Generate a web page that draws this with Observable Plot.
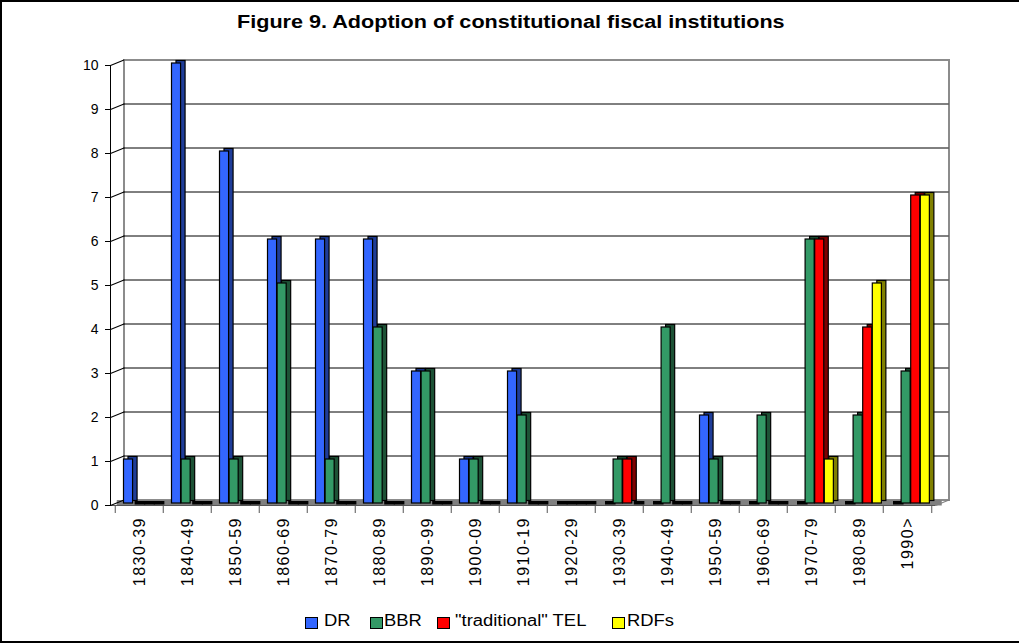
<!DOCTYPE html>
<html>
<head>
<meta charset="utf-8">
<script src="https://cdn.jsdelivr.net/npm/d3@7"></script>
<script src="https://cdn.jsdelivr.net/npm/@observablehq/plot@0.6"></script>
<style>
  html, body { margin: 0; padding: 0; background: #fff; }
  body { width: 1019px; height: 644px; position: relative; overflow: hidden;
         font-family: "Liberation Sans", Arial, sans-serif; color: #000; }
  #border { position: absolute; left: 0; top: 0; width: 1019px; height: 643px; box-sizing: border-box;
            border-top: 2px solid #000; border-left: 2px solid #000; border-bottom: 2px solid #000; }
  #chart { position: absolute; left: 0; top: 0; }
  #title { position: absolute; left: 237px; top: 13px; font-size: 18px; line-height: 18px; font-weight: bold;
           white-space: nowrap; transform: scaleX(1.2); transform-origin: 0 0; }
  .swatch { position: absolute; top: 617px; width: 13px; height: 12px; box-sizing: border-box; border: 1.5px solid #000; }
  .key { position: absolute; top: 613px; font-size: 16px; line-height: 16px; white-space: nowrap;
         transform: scaleX(1.15); transform-origin: 0 0; }
  #chart g[aria-label="x-axis tick label"] text { letter-spacing: 1.5px; }
</style>
</head>
<body>
<div id="border"></div>
<div id="chart"></div>
<div id="title">Figure 9. Adoption of constitutional fiscal institutions</div>
<div id="legend"></div>
<script>
// Decades
const categories = ["1830-39", "1840-49", "1850-59", "1860-69", "1870-79", "1880-89", "1890-99",
  "1900-09", "1910-19", "1920-29", "1930-39", "1940-49", "1950-59", "1960-69", "1970-79", "1980-89", "1990>"];

// Series names
const seriesNames = ["DR", "BBR", "\"traditional\" TEL", "RDFs"];

// Number of adoptions per decade
const drValues   = [1, 10, 8, 6, 6, 6, 3, 1, 3, 0, 0, 0, 2, 0, 0, 0, 0];
const bbrValues  = [0, 1, 1, 5, 1, 4, 3, 1, 2, 0, 1, 4, 1, 2, 6, 2, 3];
const telValues  = [0, 0, 0, 0, 0, 0, 0, 0, 0, 0, 1, 0, 0, 0, 6, 4, 7];
const rdfsValues = [0, 0, 0, 0, 0, 0, 0, 0, 0, 0, 0, 0, 0, 0, 1, 5, 7];

// Value axis ticks
const yTicks = [0, 1, 2, 3, 4, 5, 6, 7, 8, 9, 10];

// ---- styling ----
const fronts = ["#3366ff", "#339966", "#ff0000", "#ffff00"];
const sides  = ["#1f3d99", "#1d5236", "#800000", "#808000"];

const W = 1019, H = 600;
const mLeft = 110, mRight = 84, mTop = 65, mBottom = 95;
const bandW = (W - mLeft - mRight) / categories.length;
const wall = {dx: 13.5, dy: -5.5};   // depth offset of the back wall
const slot = 9.6;                     // width of one bar face

const valuesBySeries = [drValues, bbrValues, telValues, rdfsValues];
const tables = valuesBySeries.map((vals, s) =>
  categories.map((c, i) => ({category: c, series: seriesNames[s], value: vals[i]})));

const slotInsets = (s, extra = 0) => {
  const insetLeft = 3.5 + slot * s;
  return {insetLeft, insetRight: bandW - insetLeft - slot - extra};
};

// flat tops of the empty bars lying on the floor
const flatMarks = tables.map((data, s) =>
  Plot.barY(data.filter(d => d.value === 0), {
    x: "category", y: "value", ...slotInsets(s, 1.5),
    insetTop: -3.5, dx: 6.5, dy: -0.5, fill: "#000"
  }));

// each bar: a darker shifted block for top/side, then the front face
const barMarks = tables.flatMap((data, s) => {
  const common = {x: "category", y: "value", ...slotInsets(s), stroke: "#000", strokeWidth: 1.2};
  return [
    Plot.barY(data, {...common, dx: 9.5, dy: -4.5, fill: sides[s]}),
    Plot.barY(data, {...common, dx: 5, dy: -2, fill: fronts[s]})
  ];
});

const lineShape = {draw(context, l) { context.moveTo(0, 0); context.lineTo(0, -l); }};
const depthLen = Math.hypot(wall.dx, wall.dy);
const depthAngle = Math.atan2(wall.dx, -wall.dy) * 180 / Math.PI;

const chart = Plot.plot({
  width: W, height: H,
  marginLeft: mLeft, marginRight: mRight, marginTop: mTop, marginBottom: mBottom,
  x: {type: "band", domain: categories, padding: 0, label: null},
  y: {domain: [0, 10], label: null},
  style: {background: "transparent", fontFamily: "'Liberation Sans', Arial, sans-serif", fontSize: "14px", color: "#000", overflow: "visible"},
  marks: [
    // back wall
    Plot.frame({...wall, stroke: "#8c8c8c", strokeWidth: 2, fill: "#fff"}),
    Plot.ruleY(yTicks.slice(1, -1), {...wall, stroke: "#000", strokeWidth: 1}),
    // floor
    Plot.ruleY([0], {dx: wall.dx / 2, dy: wall.dy / 2, stroke: "#808080", strokeWidth: 5.5}),
    Plot.vector([0], {y: d => d, frameAnchor: "right", length: depthLen, rotate: depthAngle, anchor: "start",
      shape: lineShape, stroke: "#808080", strokeWidth: 1}),
    Plot.ruleY([0], {stroke: "#555", strokeWidth: 1}),
    // category ticks between decades
    Plot.axisX({tickSize: 8, tickFormat: () => "", dx: -bandW / 2, stroke: "#555", label: null}),
    Plot.axisX([categories[categories.length - 1]], {tickSize: 8, tickFormat: () => "", dx: bandW / 2, stroke: "#555", label: null}),
    // decade labels
    Plot.axisX({tickSize: 0, tickPadding: 11.5, tickRotate: -90, fontSize: 16, label: null}),
    // value axis
    Plot.frame({anchor: "left", stroke: "#000", strokeWidth: 1}),
    Plot.axisY(yTicks, {tickSize: 5, tickPadding: 7, fontSize: 14, label: null, stroke: "#000"}),
    Plot.vector(yTicks, {y: d => d, frameAnchor: "left", length: depthLen, rotate: depthAngle, anchor: "start",
      shape: lineShape, stroke: "#000", strokeWidth: 1}),
    // bars
    ...flatMarks,
    ...barMarks
  ]
});
document.getElementById("chart").appendChild(chart);

// legend
const legend = document.getElementById("legend");
const swatchLeft = [305, 370, 437, 612];
const keyLeft = [324, 384, 455, 627];
seriesNames.forEach((name, s) => {
  const sw = document.createElement("div");
  sw.className = "swatch";
  sw.style.left = swatchLeft[s] + "px";
  sw.style.background = fronts[s];
  legend.appendChild(sw);
  const t = document.createElement("div");
  t.className = "key";
  t.style.left = keyLeft[s] + "px";
  t.textContent = name;
  legend.appendChild(t);
});
</script>
</body>
</html>
